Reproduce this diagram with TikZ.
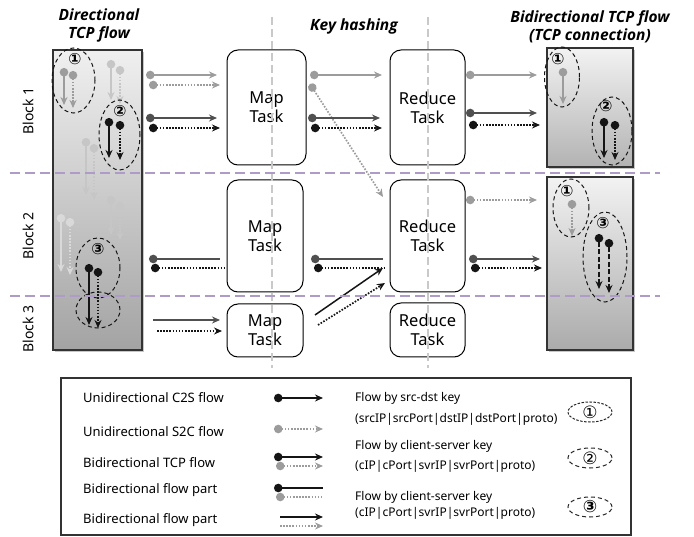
\documentclass[tikz,border=0pt]{standalone}
\usepackage{fontspec}
\setmainfont{Noto Sans}
\newfontfamily\cnum{DejaVu Sans}
\newfontfamily\hdrf{Open Sans}
\usetikzlibrary{arrows.meta,shapes.geometric}
\definecolor{lgr}{HTML}{9C9C9C}
\definecolor{dgr}{HTML}{505050}
\definecolor{blk}{HTML}{151515}
\definecolor{fada}{HTML}{C6C6C6}
\definecolor{fadb}{HTML}{D9D9D9}
\definecolor{purp}{HTML}{AE9BC8}
\definecolor{vgr}{HTML}{C9C9C9}
\tikzset{
  sol/.style={line width=1.5pt},
  dtd/.style={line width=1.7pt, dash pattern=on 1.6pt off 1.5pt},
  dsh/.style={line width=1.6pt, dash pattern=on 5pt off 2.5pt},
  fl/.style={{Circle[length=8.5pt]}-{Stealth[length=8pt,width=7pt]}},
  fd/.style={{Circle[length=8.5pt]}-},
  fe/.style={-{Stealth[length=8pt,width=7pt]}},
  taskbox/.style={draw, line width=1pt, rounded corners=11pt, align=center,
    font=\fontsize{16.5}{19}\selectfont, inner sep=0pt},
  hdr/.style={font=\hdrf\bfseries\itshape\fontsize{15.5}{18}\selectfont, align=center},
  blab/.style={rotate=90, font=\fontsize{14}{16}\selectfont},
  grp/.style={draw=blk, line width=1pt, dash pattern=on 4pt off 3pt},
  cn/.style={font=\cnum\bfseries\fontsize{15.5}{16}\selectfont, inner sep=0pt},
  cnl/.style={font=\cnum\fontsize{17}{18}\selectfont, inner sep=0pt},
  leg/.style={anchor=west, font=\fontsize{13}{15}\selectfont, inner sep=0pt},
  legr/.style={anchor=west, font=\fontsize{12}{14}\selectfont, inner sep=0pt},
  col/.style={draw=black!80, line width=1.1pt},
}
\begin{document}
\begin{tikzpicture}[x=1pt,y=-1pt]
\useasboundingbox (0,0) rectangle (694,537);
% headers
\node[hdr] (h1) at (99,25) {Directional\\TCP flow};
\node[hdr] (h2) at (354,26) {Key hashing};
\node[hdr] (h3) at (590,27) {Bidirectional TCP flow\\(TCP connection)};
% block labels
\node[blab] (b1) at (28,111) {Block 1};
\node[blab] (b2) at (28,236) {Block 2};
\node[blab] (b3) at (28,329) {Block 3};
% columns
\fill[black!22] (55,52) rectangle (144,352);
\shade[top color=black!6, bottom color=black!36] (53,50) rectangle (142,350);
\draw[col] (53,50) rectangle (142,350);
\fill[black!22] (549,50) rectangle (635,169);
\shade[top color=black!5, bottom color=black!30] (547,48) rectangle (633,167);
\draw[col] (547,48) rectangle (633,167);
\fill[black!22] (549,179) rectangle (635,352);
\shade[top color=black!5, bottom color=black!33] (547,177) rectangle (633,350);
\draw[col] (547,177) rectangle (633,350);
% tasks
\node[taskbox, minimum width=79pt, minimum height=115pt] (m1) at (266.5,107.5) {Map\\Task};
\node[taskbox, minimum width=76pt, minimum height=112pt] (m2) at (265,236) {Map\\Task};
\node[taskbox, minimum width=76pt, minimum height=53pt] (m3) at (265,330.5) {Map\\Task};
\node[taskbox, minimum width=75pt, minimum height=115pt] (r1) at (427.5,107.5) {Reduce\\Task};
\node[taskbox, minimum width=75pt, minimum height=112pt] (r2) at (427.5,236) {Reduce\\Task};
\node[taskbox, minimum width=75pt, minimum height=54pt] (r3) at (427.5,330) {Reduce\\Task};
% vertical gray dashed
\draw[vgr, line width=1.5pt, dash pattern=on 8pt off 4pt] (272,17) -- (272,368);
\draw[vgr, line width=1.5pt, dash pattern=on 8pt off 4pt] (428,17) -- (428,368);
% ---- left column contents
\draw[fl,sol,fadb] (61,214) -- (61,272);
\draw[fl,dtd,fadb] (70,218) -- (70,275);
\draw[fl,sol,fada] (111,60) -- (111,100);
\draw[fl,dtd,fada] (120,66) -- (120,104);
\draw[fl,sol,fada] (86,138) -- (86,195);
\draw[fl,dtd,fada] (94,144) -- (94,200);
\draw[fl,sol,fada] (111,196) -- (111,235);
\draw[fl,dtd,fada] (120,202) -- (120,240);
\draw[grp] (73.5,80.5) ellipse [x radius=21.5pt, y radius=32.5pt];
\node[cn] (c1) at (75,59) {①};
\draw[fl,sol,lgr] (64,68) -- (64,105);
\draw[fl,dtd,lgr] (73,71) -- (73,108);
\draw[grp] (119.5,135) ellipse [x radius=20.5pt, y radius=35pt];
\node[cn] (c2) at (120,111) {②};
\draw[fl,sol,blk] (109,118) -- (109,158);
\draw[fl,dtd,blk] (120,121) -- (120,160);
\draw[grp] (98,268) ellipse [x radius=22pt, y radius=30pt];
\draw[grp] (98,310) ellipse [x radius=22pt, y radius=18pt];
\node[cn] (c3) at (98,249) {③};
\draw[fl,sol,blk] (89,264) -- (89,325);
\draw[fl,dtd,blk] (98,268) -- (98,328);
% ---- left -> map
\draw[fl,sol,lgr] (146,75) -- (217,75);
\draw[fl,dtd,lgr] (149,85) -- (220,85);
\draw[fl,sol,dgr] (146,118) -- (217,118);
\draw[fl,dtd,blk] (149,128) -- (220,128);
\draw[fd,sol,dgr] (149,259) -- (220,259);
\draw[fd,dtd,blk] (151,268) -- (224,268);
\draw[fe,sol,dgr] (153,320) -- (220,320);
\draw[fe,dtd,blk] (157,331) -- (222,331);
% ---- map -> reduce
\draw[fl,sol,lgr] (310,75) -- (382,75);
\draw[fl,dtd,lgr] (310,84) -- (383,197);
\draw[fl,sol,dgr] (308,118) -- (380,118);
\draw[fl,dtd,blk] (311,128) -- (382,128);
\draw[fd,sol,dgr] (311,259) -- (383,259);
\draw[fd,dtd,blk] (314,268) -- (386,268);
\draw[fe,sol,blk] (315,315) -- (383,268);
\draw[fe,dtd,blk] (318,325) -- (385,283);
% ---- reduce -> right
\draw[fl,sol,lgr] (466,75) -- (537,75);
\draw[fl,sol,dgr] (466,113) -- (537,113);
\draw[fl,dtd,blk] (469,125) -- (540,125);
\draw[fl,dtd,lgr] (466,200) -- (537,200);
\draw[fl,sol,dgr] (469,259) -- (540,259);
\draw[fl,dtd,blk] (471,268) -- (542,268);
% ---- right column contents
\draw[grp] (562,77) ellipse [x radius=17.5pt, y radius=30pt];
\node[cn] (c4) at (558,59) {①};
\draw[fl,sol,lgr] (563,68) -- (563,104);
\draw[grp] (612,131) ellipse [x radius=20pt, y radius=34pt];
\node[cn] (c5) at (606,106) {②};
\draw[fl,sol,blk] (604,118) -- (604,158);
\draw[fl,dtd,blk] (615,121) -- (615,160);
\draw[grp] (571,208) ellipse [x radius=18pt, y radius=29pt];
\node[cn] (c6) at (567,191) {①};
\draw[fl,dtd,lgr] (572,200) -- (572,236);
\draw[grp] (605,257) ellipse [x radius=22pt, y radius=45pt];
\node[cn] (c7) at (603,223) {③};
\draw[fl,dsh,blk] (599,234) -- (599,289);
\draw[fl,dsh,blk] (609,239) -- (609,293);
% purple block separators
\draw[purp, line width=2.6pt, dash pattern=on 10pt off 5pt] (10,173) -- (660,173);
\draw[purp, line width=2.6pt, dash pattern=on 10pt off 5pt] (10,296) -- (660,296);
% ---- legend
\draw[line width=1.1pt, black!80] (61,378) rectangle (631,535);
\node[leg] (l1) at (83,398) {Unidirectional C2S flow};
\node[leg] (l2) at (83,432) {Unidirectional S2C flow};
\node[leg] (l3) at (83,463) {Bidirectional TCP flow};
\node[leg] (l4) at (83,490) {Bidirectional flow part};
\node[leg] (l5) at (83,520) {Bidirectional flow part};
\draw[fl,sol,blk] (274,398) -- (323,398);
\draw[fl,dtd,lgr] (274,429) -- (323,429);
\draw[fl,sol,blk] (274,457) -- (323,457);
\draw[fl,dtd,lgr] (276,466) -- (323,466);
\draw[fd,sol,blk] (274,488) -- (323,488);
\draw[fd,dtd,lgr] (276,497) -- (323,497);
\draw[fe,sol,blk] (280,517) -- (323,517);
\draw[fe,dtd,lgr] (280,526) -- (323,526);
\node[legr] (k1) at (355,398) {Flow by src-dst key};
\node[legr] (k2) at (355,419) {(srcIP|srcPort|dstIP|dstPort|proto)};
\node[legr] (k3) at (355,446) {Flow by client-server key};
\node[legr] (k4) at (355,466) {(cIP|cPort|svrIP|svrPort|proto)};
\node[legr] (k5) at (355,497) {Flow by client-server key};
\node[legr] (k6) at (355,513) {(cIP|cPort|svrIP|svrPort|proto)};
\draw[black!85, line width=1pt, dash pattern=on 2.5pt off 1.5pt] (590,412) ellipse [x radius=22pt, y radius=10pt];
\node[cnl] (e1) at (590,412) {①};
\draw[black!85, line width=1pt, dash pattern=on 4pt off 3pt] (590,458) ellipse [x radius=22pt, y radius=10pt];
\node[cnl] (e2) at (590,458) {②};
\draw[black!85, line width=1pt, dash pattern=on 4pt off 3pt] (590,507) ellipse [x radius=22pt, y radius=10pt];
\node[cnl, font=\cnum\bfseries\fontsize{17}{18}\selectfont] (e3) at (590,507) {③};
\end{tikzpicture}
\end{document}
